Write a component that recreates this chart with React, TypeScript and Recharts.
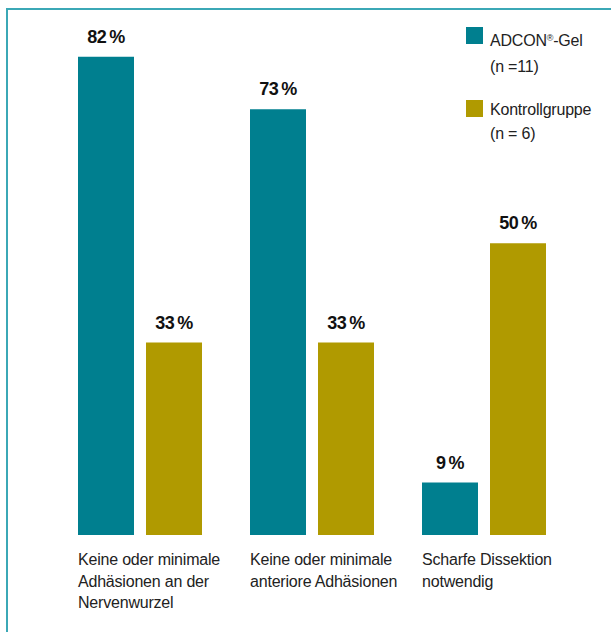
import React from 'react';
import { BarChart, Bar, XAxis, YAxis, LabelList } from 'recharts';

// categories (multi-line labels)
const categories: string[][] = [
    ['Keine oder minimale', 'Adhäsionen an der', 'Nervenwurzel'],
    ['Keine oder minimale', 'anteriore Adhäsionen'],
    ['Scharfe Dissektion', 'notwendig'],
];
const adconValues = [82, 73, 9];
const kontrollValues = [33, 33, 50];

const TEAL = '#007f8f';
const GOLD = '#b09a00';
const FONT = '"Liberation Sans", Arial, Helvetica, sans-serif';

const data = categories.map((c, i) => ({
    key: `c${i}`,
    adcon: adconValues[i],
    kontroll: kontrollValues[i],
}));

const CategoryTick = (props: any) => {
    const { x, y, payload } = props;
    const lines = categories[payload.index] || [];
    return (
        <text x={x - 62} y={y} fill="#222" fontSize={16} fontFamily={FONT} letterSpacing={-0.2}>
            {lines.map((l, i) => (
                <tspan key={i} x={x - 62} y={y + 22 + i * 21.5}>{l}</tspan>
            ))}
        </text>
    );
};

const renderPct = (props: any) => {
    const { x, y, width, value } = props;
    return (
        <text
            x={Number(x) + Number(width) / 2}
            y={Number(y) - 14}
            textAnchor="middle"
            fontSize={18}
            fontWeight="bold"
            fontFamily={FONT}
            fill="#111"
            letterSpacing={-0.5}
        >
            {`${value}\u2009%`}
        </text>
    );
};

const LegendBox = () => {
    const txt: React.CSSProperties = {
        position: 'absolute',
        left: 30,
        fontSize: 16,
        lineHeight: '20px',
        fontFamily: FONT,
        color: '#222',
        whiteSpace: 'nowrap',
        letterSpacing: -0.2,
    };
    return (
        <div style={{ position: 'absolute', left: 460, top: 20, width: 150, height: 140 }}>
            <div style={{ position: 'absolute', left: 6, top: 7, width: 17, height: 17, background: TEAL }} />
            <div style={{ ...txt, top: 10.5 }}>ADCON<sup style={{ fontSize: 9, verticalAlign: 'top', lineHeight: '14px' }}>®</sup>-Gel</div>
            <div style={{ ...txt, top: 36.5 }}>(n =11)</div>
            <div style={{ position: 'absolute', left: 6, top: 80, width: 17, height: 17, background: GOLD }} />
            <div style={{ ...txt, top: 79.5 }}>Kontrollgruppe</div>
            <div style={{ ...txt, top: 103.5 }}>(n = 6)</div>
        </div>
    );
};

export default function App() {
    return (
        <div style={{ position: 'absolute', left: 0, top: 0, width: 611, height: 632, background: '#fff' }}>
            {/* frame lines */}
            <div style={{ position: 'absolute', left: 6, top: 8, width: 605, height: 2, background: '#3ba8b6' }} />
            <div style={{ position: 'absolute', left: 6, top: 8, width: 2, height: 624, background: '#3ba8b6' }} />
            <BarChart
                width={611}
                height={632}
                data={data}
                margin={{ top: 10, right: 41, bottom: 0, left: 54 }}
                barSize={56}
                barGap={12}
            >
                <XAxis
                    dataKey="key"
                    axisLine={false}
                    tickLine={false}
                    height={97}
                    interval={0}
                    tick={<CategoryTick />}
                />
                <YAxis hide domain={[0, 90]} />
                <Bar dataKey="adcon" fill={TEAL} isAnimationActive={false}>
                    <LabelList dataKey="adcon" content={renderPct} />
                </Bar>
                <Bar dataKey="kontroll" fill={GOLD} isAnimationActive={false}>
                    <LabelList dataKey="kontroll" content={renderPct} />
                </Bar>
            </BarChart>
            <LegendBox />
        </div>
    );
}
